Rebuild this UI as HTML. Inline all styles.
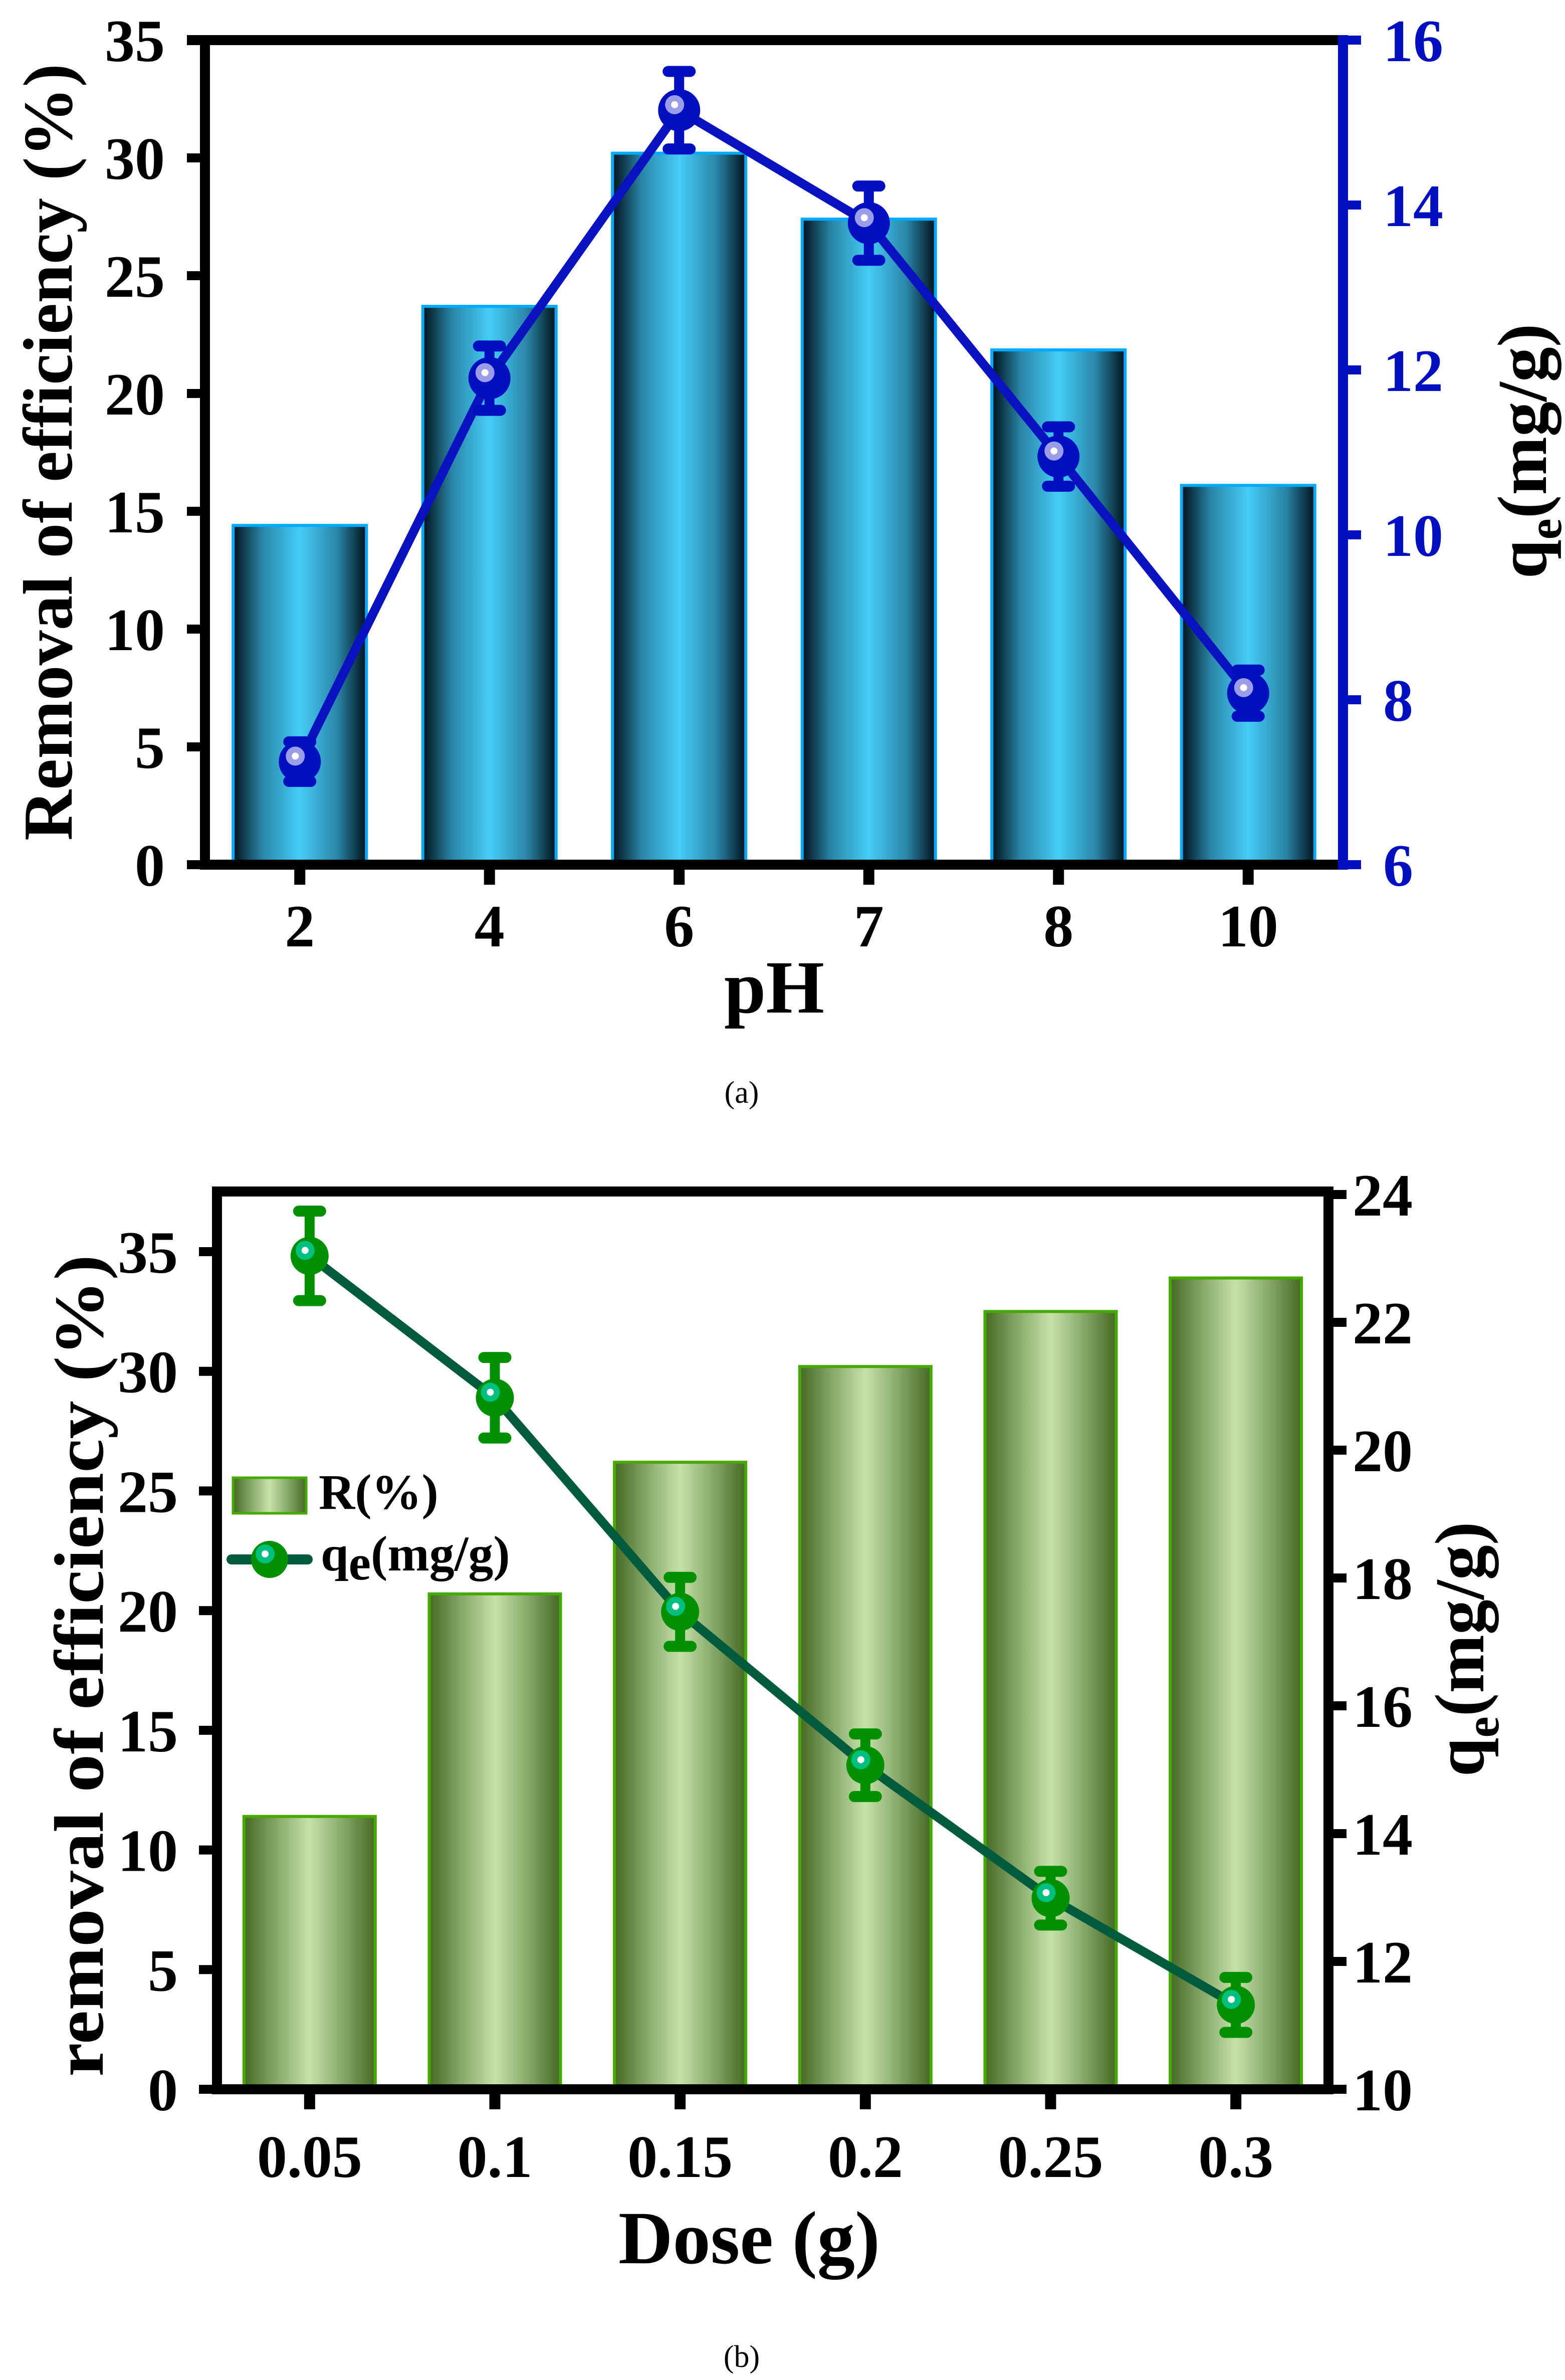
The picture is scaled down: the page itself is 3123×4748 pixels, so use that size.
<!DOCTYPE html>
<html><head><meta charset="utf-8"><style>html,body{margin:0;padding:0;background:#fff}svg{display:block}
text,tspan{font-family:"Liberation Serif","Times New Roman",serif;font-weight:bold}
text.nb{font-weight:normal}</style></head>
<body>
<svg id="fig" xmlns="http://www.w3.org/2000/svg" width="3123" height="4748" viewBox="0 0 3123 4748">
<defs>
<linearGradient id="gBlue" x1="0" x2="1" y1="0" y2="0">
<stop offset="0" stop-color="#00121a"/><stop offset="0.22" stop-color="#2a86a8"/><stop offset="0.5" stop-color="#45cdf8"/><stop offset="0.78" stop-color="#2a86a8"/><stop offset="1" stop-color="#00121a"/></linearGradient>
<linearGradient id="gGreen" x1="0" x2="1" y1="0" y2="0">
<stop offset="0" stop-color="#456a24"/><stop offset="0.25" stop-color="#88a86a"/><stop offset="0.5" stop-color="#c5e2ab"/><stop offset="0.75" stop-color="#88a86a"/><stop offset="1" stop-color="#456a24"/></linearGradient>
</defs>
<g id="chartA"></g>
<g id="chartB"></g>
</svg>
<script>
const phCats = ["2","4","6","7","8","10"];
const phRemoval = [14.4, 23.7, 30.2, 27.4, 21.85, 16.1];
const phQe = [7.25, 11.9, 15.15, 13.78, 10.95, 8.08];
const phQeErr = [0.24, 0.39, 0.47, 0.45, 0.36, 0.28];
const phLeftTicks = [0,5,10,15,20,25,30,35];
const phRightTicks = [6,8,10,12,14,16];

const doseCats = ["0.05","0.1","0.15","0.2","0.25","0.3"];
const doseRemoval = [11.4, 20.7, 26.2, 30.2, 32.5, 33.9];
const doseQe = [23.04, 20.82, 17.47, 15.07, 12.99, 11.32];
const doseQeErr = [0.7, 0.63, 0.54, 0.49, 0.42, 0.43];
const doseLeftTicks = [0,5,10,15,20,25,30,35];
const doseRightTicks = [10,12,14,16,18,20,22,24];

const NS = "http://www.w3.org/2000/svg";
function mk(parent, tag, attrs, text){
  const e = document.createElementNS(NS, tag);
  for (const k in attrs) e.setAttribute(k, attrs[k]);
  if (text !== undefined) e.textContent = text;
  parent.appendChild(e);
  return e;
}

function drawChart(g, cfg){
  const n = cfg.cats.length;
  const step = (cfg.right - cfg.left) / n;
  const xPos = i => cfg.left + step * (i + 0.5);
  const yL = v => cfg.zeroY - (v - cfg.lMin) / (cfg.lMax - cfg.lMin) * (cfg.zeroY - cfg.lTopY);
  const yR = v => cfg.zeroY - (v - cfg.rMin) / (cfg.rMax - cfg.rMin) * (cfg.zeroY - cfg.rTopY);

  cfg.removal.forEach((v, i) => {
    const r = mk(g, "rect", {x: xPos(i) - cfg.barW/2, y: yL(v), width: cfg.barW, height: cfg.zeroY - yL(v), fill: cfg.barFill, stroke: cfg.barStroke, "stroke-width": 6});
    
    
  });

  const pts = cfg.qe.map((v, i) => xPos(i) + "," + yR(v)).join(" ");
  const pl = mk(g, "polyline", {points: pts, fill: "none", stroke: cfg.lineColor, "stroke-width": 18, "stroke-linejoin": "round"});
  
  

  cfg.qe.forEach((v, i) => {
    const x = xPos(i), yt = yR(v + cfg.err[i]), yb = yR(v - cfg.err[i]);
    const eg = mk(g, "g", {});
    
    
    mk(eg, "line", {x1: x, x2: x, y1: yt, y2: yb, stroke: cfg.markColor, "stroke-width": 20});
    mk(eg, "line", {x1: x-22, x2: x+22, y1: yt, y2: yt, stroke: cfg.markColor, "stroke-width": 22, "stroke-linecap": "round"});
    mk(eg, "line", {x1: x-22, x2: x+22, y1: yb, y2: yb, stroke: cfg.markColor, "stroke-width": 22, "stroke-linecap": "round"});
    const mg = mk(g, "g", {});
    
    
    mk(mg, "circle", {cx: x, cy: yR(v), r: cfg.markR, fill: cfg.markColor});
    mk(mg, "circle", {cx: x-9, cy: yR(v)-11, r: 19, fill: cfg.hlColor});
    mk(mg, "circle", {cx: x-9, cy: yR(v)-11, r: 7, fill: "#ffffff"});
  });

  const lw = 20;
  const ax = mk(g, "g", {});
  
  
  mk(ax, "line", {x1: cfg.left, x2: cfg.right + lw/2, y1: cfg.zeroY, y2: cfg.zeroY, stroke: "#000", "stroke-width": lw});
  if (cfg.topAxis) mk(ax, "line", {x1: cfg.left - 36, x2: cfg.right, y1: cfg.topY, y2: cfg.topY, stroke: "#000", "stroke-width": lw});
  else mk(ax, "line", {x1: cfg.left - lw/2, x2: cfg.right, y1: cfg.topY, y2: cfg.topY, stroke: "#000", "stroke-width": lw});
  mk(ax, "line", {x1: cfg.left, x2: cfg.left, y1: cfg.topY - lw/2, y2: cfg.zeroY + lw/2, stroke: "#000", "stroke-width": lw});
  mk(ax, "line", {x1: cfg.right, x2: cfg.right, y1: cfg.topY - lw/2, y2: cfg.zeroY + lw/2, stroke: cfg.rColor, "stroke-width": lw});

  cfg.lTicks.forEach(t => {
    mk(ax, "line", {x1: cfg.left - 36, x2: cfg.left, y1: yL(t), y2: yL(t), stroke: "#000", "stroke-width": 18});
    const tx = mk(g, "text", {x: cfg.lLabelX, y: yL(t) + 42, "text-anchor": "end", "font-size": 120, fill: "#000"}, String(t));
    
    
  });
  cfg.rTicks.forEach(t => {
    mk(ax, "line", {x1: cfg.right, x2: cfg.right + 36, y1: yR(t), y2: yR(t), stroke: cfg.rColor, "stroke-width": 18});
    const tx = mk(g, "text", {x: cfg.rLabelX, y: yR(t) + 42, "text-anchor": "start", "font-size": 120, fill: cfg.rColor}, String(t));
    
    
  });
  cfg.cats.forEach((c, i) => {
    mk(ax, "line", {x1: xPos(i), x2: xPos(i), y1: cfg.zeroY, y2: cfg.zeroY + 40, stroke: "#000", "stroke-width": 22});
    const tx = mk(g, "text", {x: xPos(i), y: cfg.xLabelY, "text-anchor": "middle", "font-size": 120, fill: "#000"}, c);
    
    
  });
  return {xPos, yL, yR};
}

const A = document.getElementById("chartA");
drawChart(A, {cats: phCats, removal: phRemoval, qe: phQe, err: phQeErr, lTicks: phLeftTicks, rTicks: phRightTicks,
  left: 409, right: 2680, topY: 80, zeroY: 1725, lTopY: 80, rTopY: 80, lMin: 0, lMax: 35, rMin: 6, rMax: 16,
  barW: 266, barFill: "url(#gBlue)", barStroke: "#00aaff", lineColor: "#0a12c0", markColor: "#0010c0", hlColor: "#9a9ee8",
  rColor: "#0010c0", lLabelX: 329, rLabelX: 2760, xLabelY: 1888, topAxis: true, markR: 42});

let t;
t = mk(A, "text", {x: 0, y: 0, transform: "translate(143,902) rotate(-90)", "text-anchor": "middle", "font-size": 140, textLength: 1550, lengthAdjust: "spacingAndGlyphs"}, "Removal of efficiency (%)");
 
t = mk(A, "text", {x: 0, y: 0, transform: "translate(3085,900) rotate(-90)", "text-anchor": "middle", "font-size": 140});
 
mk(t, "tspan", {}, "q"); mk(t, "tspan", {dy: 30, "font-size": 95}, "e"); mk(t, "tspan", {dy: -30}, "(mg/g)");
t = mk(A, "text", {x: 1545, y: 2020, "text-anchor": "middle", "font-size": 150}, "pH");
 
t = mk(A, "text", {x: 1480, y: 2200, "text-anchor": "middle", "font-size": 62, "class": "nb"}, "(a)");
 

const B = document.getElementById("chartB");
drawChart(B, {cats: doseCats, removal: doseRemoval, qe: doseQe, err: doseQeErr, lTicks: doseLeftTicks, rTicks: doseRightTicks,
  left: 433, right: 2651, topY: 2377, zeroY: 4168, lTopY: 2497, rTopY: 2383, lMin: 0, lMax: 35, rMin: 10, rMax: 24,
  barW: 262, barFill: "url(#gGreen)", barStroke: "#44aa00", lineColor: "#005a3c", markColor: "#009000", hlColor: "#00c080",
  rColor: "#000000", lLabelX: 355, rLabelX: 2699, xLabelY: 4343, topAxis: false, markR: 38});

t = mk(B, "text", {x: 0, y: 0, transform: "translate(205,3323) rotate(-90)", "text-anchor": "middle", "font-size": 140, textLength: 1640, lengthAdjust: "spacingAndGlyphs"}, "removal of efficiency (%)");
 
t = mk(B, "text", {x: 0, y: 0, transform: "translate(2960,3290) rotate(-90)", "text-anchor": "middle", "font-size": 140});
 
mk(t, "tspan", {}, "q"); mk(t, "tspan", {dy: 30, "font-size": 95}, "e"); mk(t, "tspan", {dy: -30}, "(mg/g)");
t = mk(B, "text", {x: 1495, y: 4515, "text-anchor": "middle", "font-size": 150, textLength: 522, lengthAdjust: "spacingAndGlyphs"}, "Dose (g)");
 
t = mk(B, "text", {x: 1480, y: 4722, "text-anchor": "middle", "font-size": 62, "class": "nb"}, "(b)");
 

const lg = mk(B, "g", {});


const le1 = mk(lg, "g", {});


mk(le1, "rect", {x: 465, y: 2948, width: 146, height: 71, fill: "url(#gGreen)", stroke: "#44aa00", "stroke-width": 5});
mk(le1, "text", {x: 636, y: 3010, "font-size": 100}, "R(%)");
const le2 = mk(lg, "g", {});


mk(le2, "line", {x1: 462, x2: 614, y1: 3111, y2: 3111, stroke: "#005a3c", "stroke-width": 20, "stroke-linecap": "round"});
mk(le2, "circle", {cx: 538, cy: 3111, r: 37, fill: "#009000"});
mk(le2, "circle", {cx: 529, cy: 3100, r: 19, fill: "#00c080"});
mk(le2, "circle", {cx: 529, cy: 3100, r: 7, fill: "#ffffff"});
const lt = mk(le2, "text", {x: 640, y: 3133, "font-size": 100});
mk(lt, "tspan", {}, "q"); mk(lt, "tspan", {dy: 18}, "e"); mk(lt, "tspan", {dy: -18}, "(mg/g)");
</script>
</body></html>
